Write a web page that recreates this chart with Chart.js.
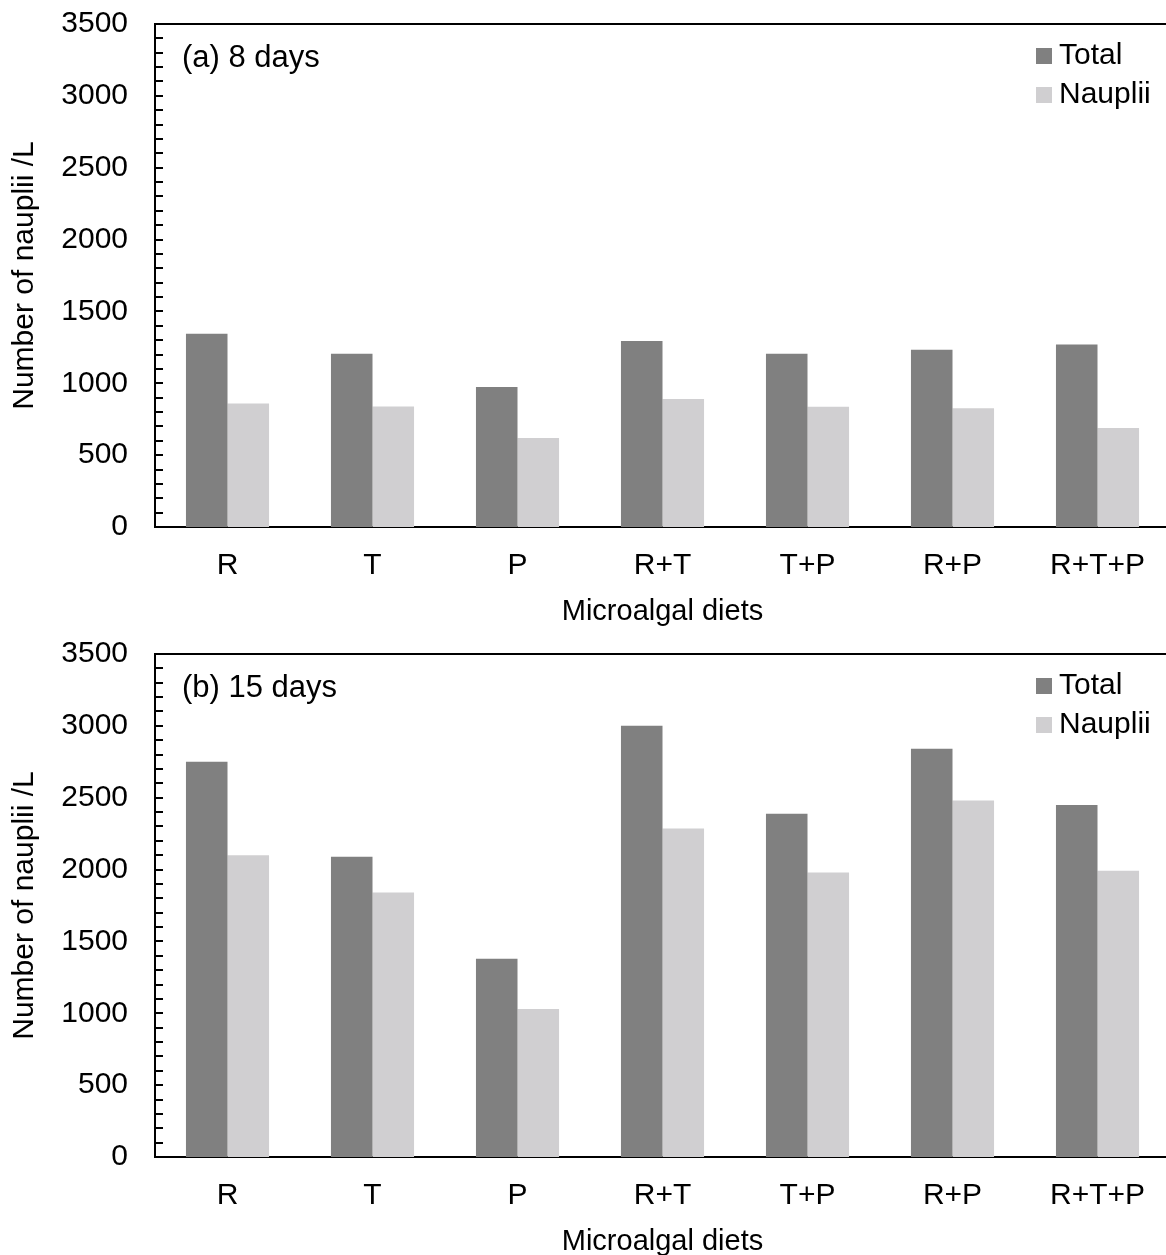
<!DOCTYPE html>
<html>
<head>
<meta charset="utf-8">
<script src="https://cdn.jsdelivr.net/npm/chart.js@4.4.1/dist/chart.umd.min.js"></script>
<style>
  html, body { margin: 0; padding: 0; background: #ffffff; overflow: hidden; width: 1166px; height: 1255px; }
  .box { position: absolute; left: 0; width: 1172px; height: 630px; }
  #boxA { top: 0; }
  #boxB { top: 630px; }
</style>
</head>
<body>
<div class="box" id="boxA"><canvas id="chartA"></canvas></div>
<div class="box" id="boxB"><canvas id="chartB"></canvas></div>
<script>
// ---- data ----
const categories = ["R", "T", "P", "R+T", "T+P", "R+P", "R+T+P"];
const seriesNames = ["Total", "Nauplii"];
const total8 = [1345, 1205, 975, 1295, 1205, 1233, 1270];
const nauplii8 = [860, 838, 620, 891, 836, 827, 689];
const total15 = [2750, 2090, 1380, 3000, 2388, 2841, 2449];
const nauplii15 = [2100, 1840, 1030, 2285, 1980, 2481, 1992];
const yTicks = [0, 500, 1000, 1500, 2000, 2500, 3000, 3500];
const panelLabels = ["(a) 8 days", "(b) 15 days"];
const xTitle = "Microalgal diets";
const yTitle = "Number of nauplii /L";

const colTotal = "#808080";
const colNauplii = "#d0cfd1";
const FONT = "'Liberation Sans', Arial, sans-serif";

const decoPlugin = {
  id: 'deco',
  afterDraw(chart, args, opts) {
    const ctx = chart.ctx;
    const ca = chart.chartArea;
    const y = chart.scales.y;
    ctx.save();
    // top frame line
    ctx.strokeStyle = '#000';
    ctx.lineWidth = 2;
    ctx.beginPath();
    ctx.moveTo(ca.left - 1, ca.top);
    ctx.lineTo(chart.width, ca.top);
    ctx.stroke();
    // inward minor/major ticks every 100
    for (let v = yTicks[0]; v <= yTicks[yTicks.length - 1]; v += 100) {
      const py = Math.round(y.getPixelForValue(v));
      ctx.beginPath();
      ctx.moveTo(ca.left, py);
      ctx.lineTo(ca.left + 8, py);
      ctx.stroke();
    }
    // panel label
    ctx.fillStyle = '#000';
    ctx.font = "31px " + FONT;
    ctx.textAlign = 'left';
    ctx.textBaseline = 'middle';
    ctx.fillText(opts.label, ca.left + 27, ca.top + 34);
    // legend (inside plot, top-right)
    ctx.font = "30px " + FONT;
    const lx = 1036, ly0 = ca.top + 32;
    chart.data.datasets.forEach((ds, i) => {
      const cy = ly0 + i * 39;
      ctx.fillStyle = ds.backgroundColor;
      ctx.fillRect(lx, cy - 8, 16, 16);
      ctx.fillStyle = '#000';
      ctx.fillText(ds.label, lx + 23, cy);
    });
    ctx.restore();
  }
};

function makeChart(id, totals, naups, label) {
  return new Chart(document.getElementById(id), {
    type: 'bar',
    data: {
      labels: categories,
      datasets: [
        { label: seriesNames[0], data: totals, backgroundColor: colTotal, borderWidth: 0 },
        { label: seriesNames[1], data: naups, backgroundColor: colNauplii, borderWidth: 0 }
      ]
    },
    options: {
      responsive: true,
      maintainAspectRatio: false,
      animation: false,
      events: [],
      layout: { padding: { top: 24, left: 0, right: 2, bottom: 0 } },
      datasets: { bar: { categoryPercentage: 0.573, barPercentage: 1.0 } },
      plugins: {
        legend: { display: false },
        tooltip: { enabled: false },
        deco: { label: label }
      },
      scales: {
        x: {
          grid: { display: false, drawTicks: false },
          border: { display: true, color: '#000', width: 2 },
          ticks: { color: '#000', font: { family: FONT, size: 30 }, padding: 21, maxRotation: 0, autoSkip: false },
          title: { display: true, text: xTitle, color: '#000', font: { family: FONT, size: 29 }, padding: { top: 0, bottom: 1 } },
          afterFit(s) { s.height = 103; s.paddingLeft = 0; s.paddingRight = 0; }
        },
        y: {
          min: 0, max: 3500,
          afterBuildTicks(s) { s.ticks = yTicks.map(v => ({ value: v })); },
          grid: { display: false, drawTicks: false },
          border: { display: true, color: '#000', width: 2 },
          ticks: { color: '#000', font: { family: FONT, size: 30 }, padding: 27, callback: v => String(v) },
          title: { display: true, text: yTitle, color: '#000', font: { family: FONT, size: 30 }, padding: { top: 7, bottom: 0 } },
          afterFit(s) { s.width = 155; s.paddingTop = 0; s.paddingBottom = 0; }
        }
      }
    },
    plugins: [decoPlugin]
  });
}

makeChart('chartA', total8, nauplii8, panelLabels[0]);
makeChart('chartB', total15, nauplii15, panelLabels[1]);
</script>
</body>
</html>
